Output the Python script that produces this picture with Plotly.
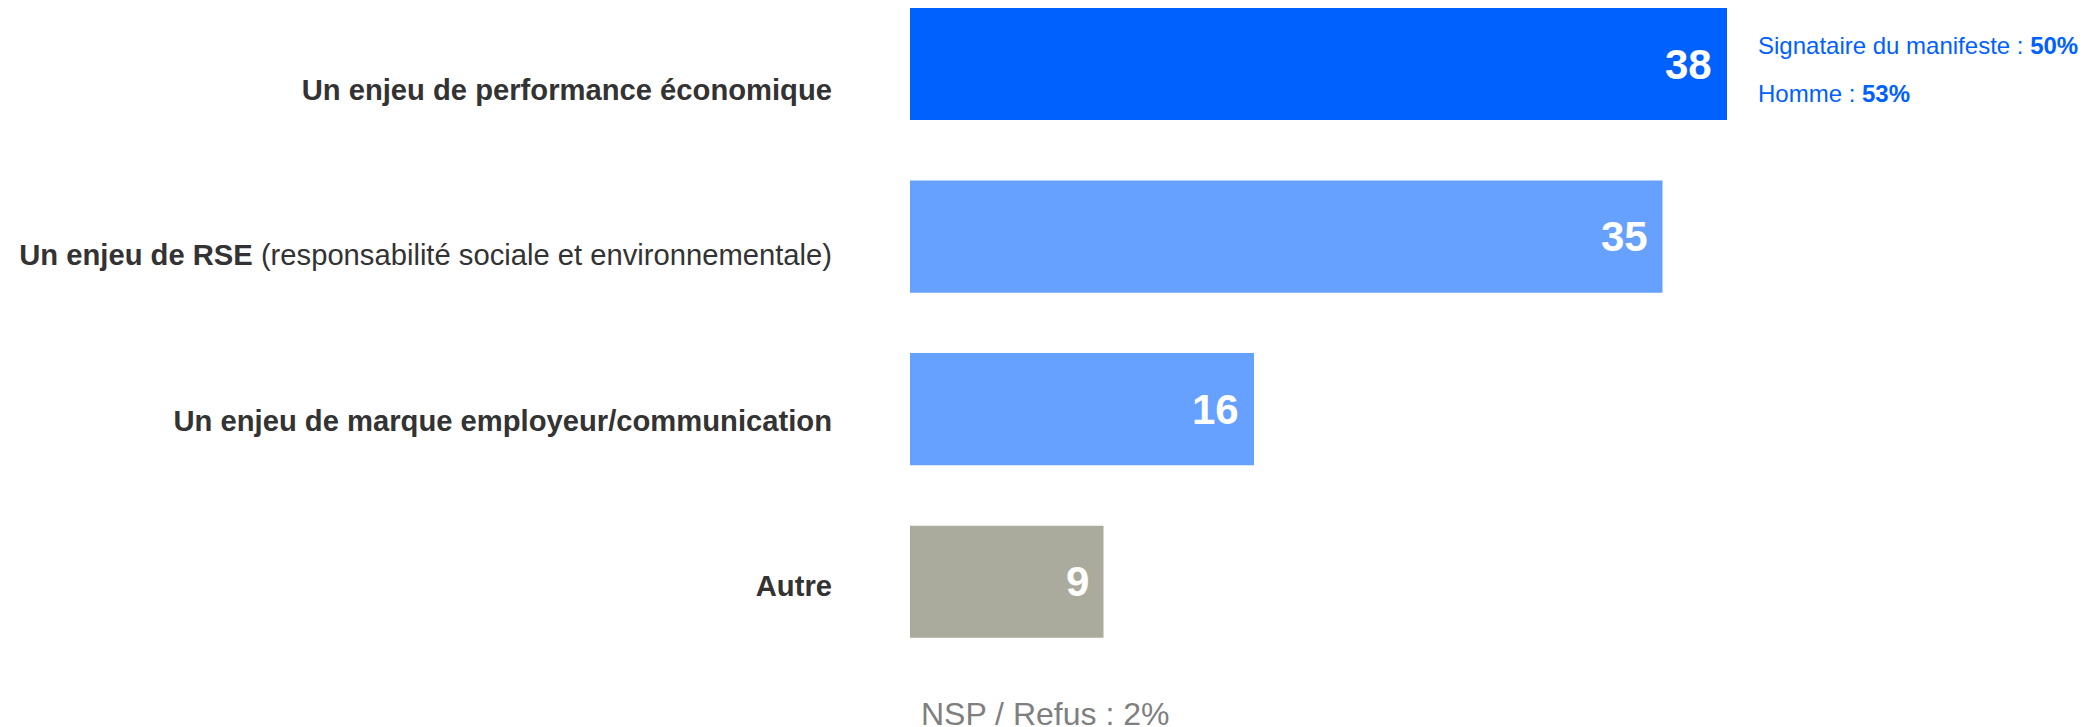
import plotly.graph_objects as go

categories = [
    "Un enjeu de performance économique",
    "Un enjeu de RSE (responsabilité sociale et environnementale)",
    "Un enjeu de marque employeur/communication",
    "Autre",
]
tick_labels = [
    "<b>Un enjeu de performance économique</b>",
    "<b>Un enjeu de RSE</b> (responsabilité sociale et environnementale)",
    "<b>Un enjeu de marque employeur/communication</b>",
    "<b>Autre</b>",
]
values = [38, 35, 16, 9]
bar_colors = ["#0061FE", "#66A1FF", "#66A1FF", "#ABAB9D"]
side_notes = ["Signataire du manifeste : <b>50%</b>", "Homme : <b>53%</b>"]
nsp_note = "NSP / Refus : 2%"

FONT = "Arial, 'Liberation Sans', sans-serif"

fig = go.Figure()
fig.add_trace(go.Bar(
    x=values, y=categories, orientation="h",
    marker=dict(color=bar_colors, line=dict(width=0)),
    hoverinfo="skip", showlegend=False,
))
# invisible trace carrying the label axis
fig.add_trace(go.Scatter(
    x=[0] * len(categories), y=categories, yaxis="y2", mode="markers",
    marker=dict(color="rgba(0,0,0,0)", size=1), hoverinfo="skip", showlegend=False,
))

for cat, v in zip(categories, values):
    fig.add_annotation(
        x=v, y=cat, xref="x", yref="y", text=f"<b>{v}</b>", showarrow=False,
        xanchor="right", yanchor="middle", xshift=-13,
        font=dict(family=FONT, size=42, color="white"),
    )

for i, note in enumerate(side_notes):
    fig.add_annotation(
        x=values[0], y=1, xref="x", yref="paper", text=note, showarrow=False,
        xanchor="left", yanchor="middle", xshift=29, yshift=-37 - 48 * i,
        font=dict(family=FONT, size=24, color="#0061FE"),
    )

fig.add_annotation(
    x=0, y=0, xref="paper", yref="paper", text=nsp_note, showarrow=False,
    xanchor="left", yanchor="middle", xshift=9, yshift=-46,
    font=dict(family=FONT, size=32, color="#7F7F7F"),
)

fig.update_layout(
    width=2088, height=719,
    margin=dict(l=902, r=111, t=0, b=59),
    paper_bgcolor="white", plot_bgcolor="white",
    bargap=0.35,
    font=dict(family=FONT),
    xaxis=dict(range=[0, 50], visible=False, showgrid=False, zeroline=False),
    yaxis=dict(
        categoryorder="array", categoryarray=categories,
        range=[3.5, -0.3246], showticklabels=False, showgrid=False,
        zeroline=False, showline=False, ticks="",
    ),
    yaxis2=dict(
        overlaying="y", side="left", categoryorder="array",
        categoryarray=categories, range=[3.4975, -0.4937],
        tickmode="array", tickvals=categories, ticktext=tick_labels,
        ticklabelstandoff=77, showgrid=False, zeroline=False, showline=False,
        ticks="", tickfont=dict(family=FONT, size=29.2, color="#333333"),
    ),
)

fig.write_html("out.html")
